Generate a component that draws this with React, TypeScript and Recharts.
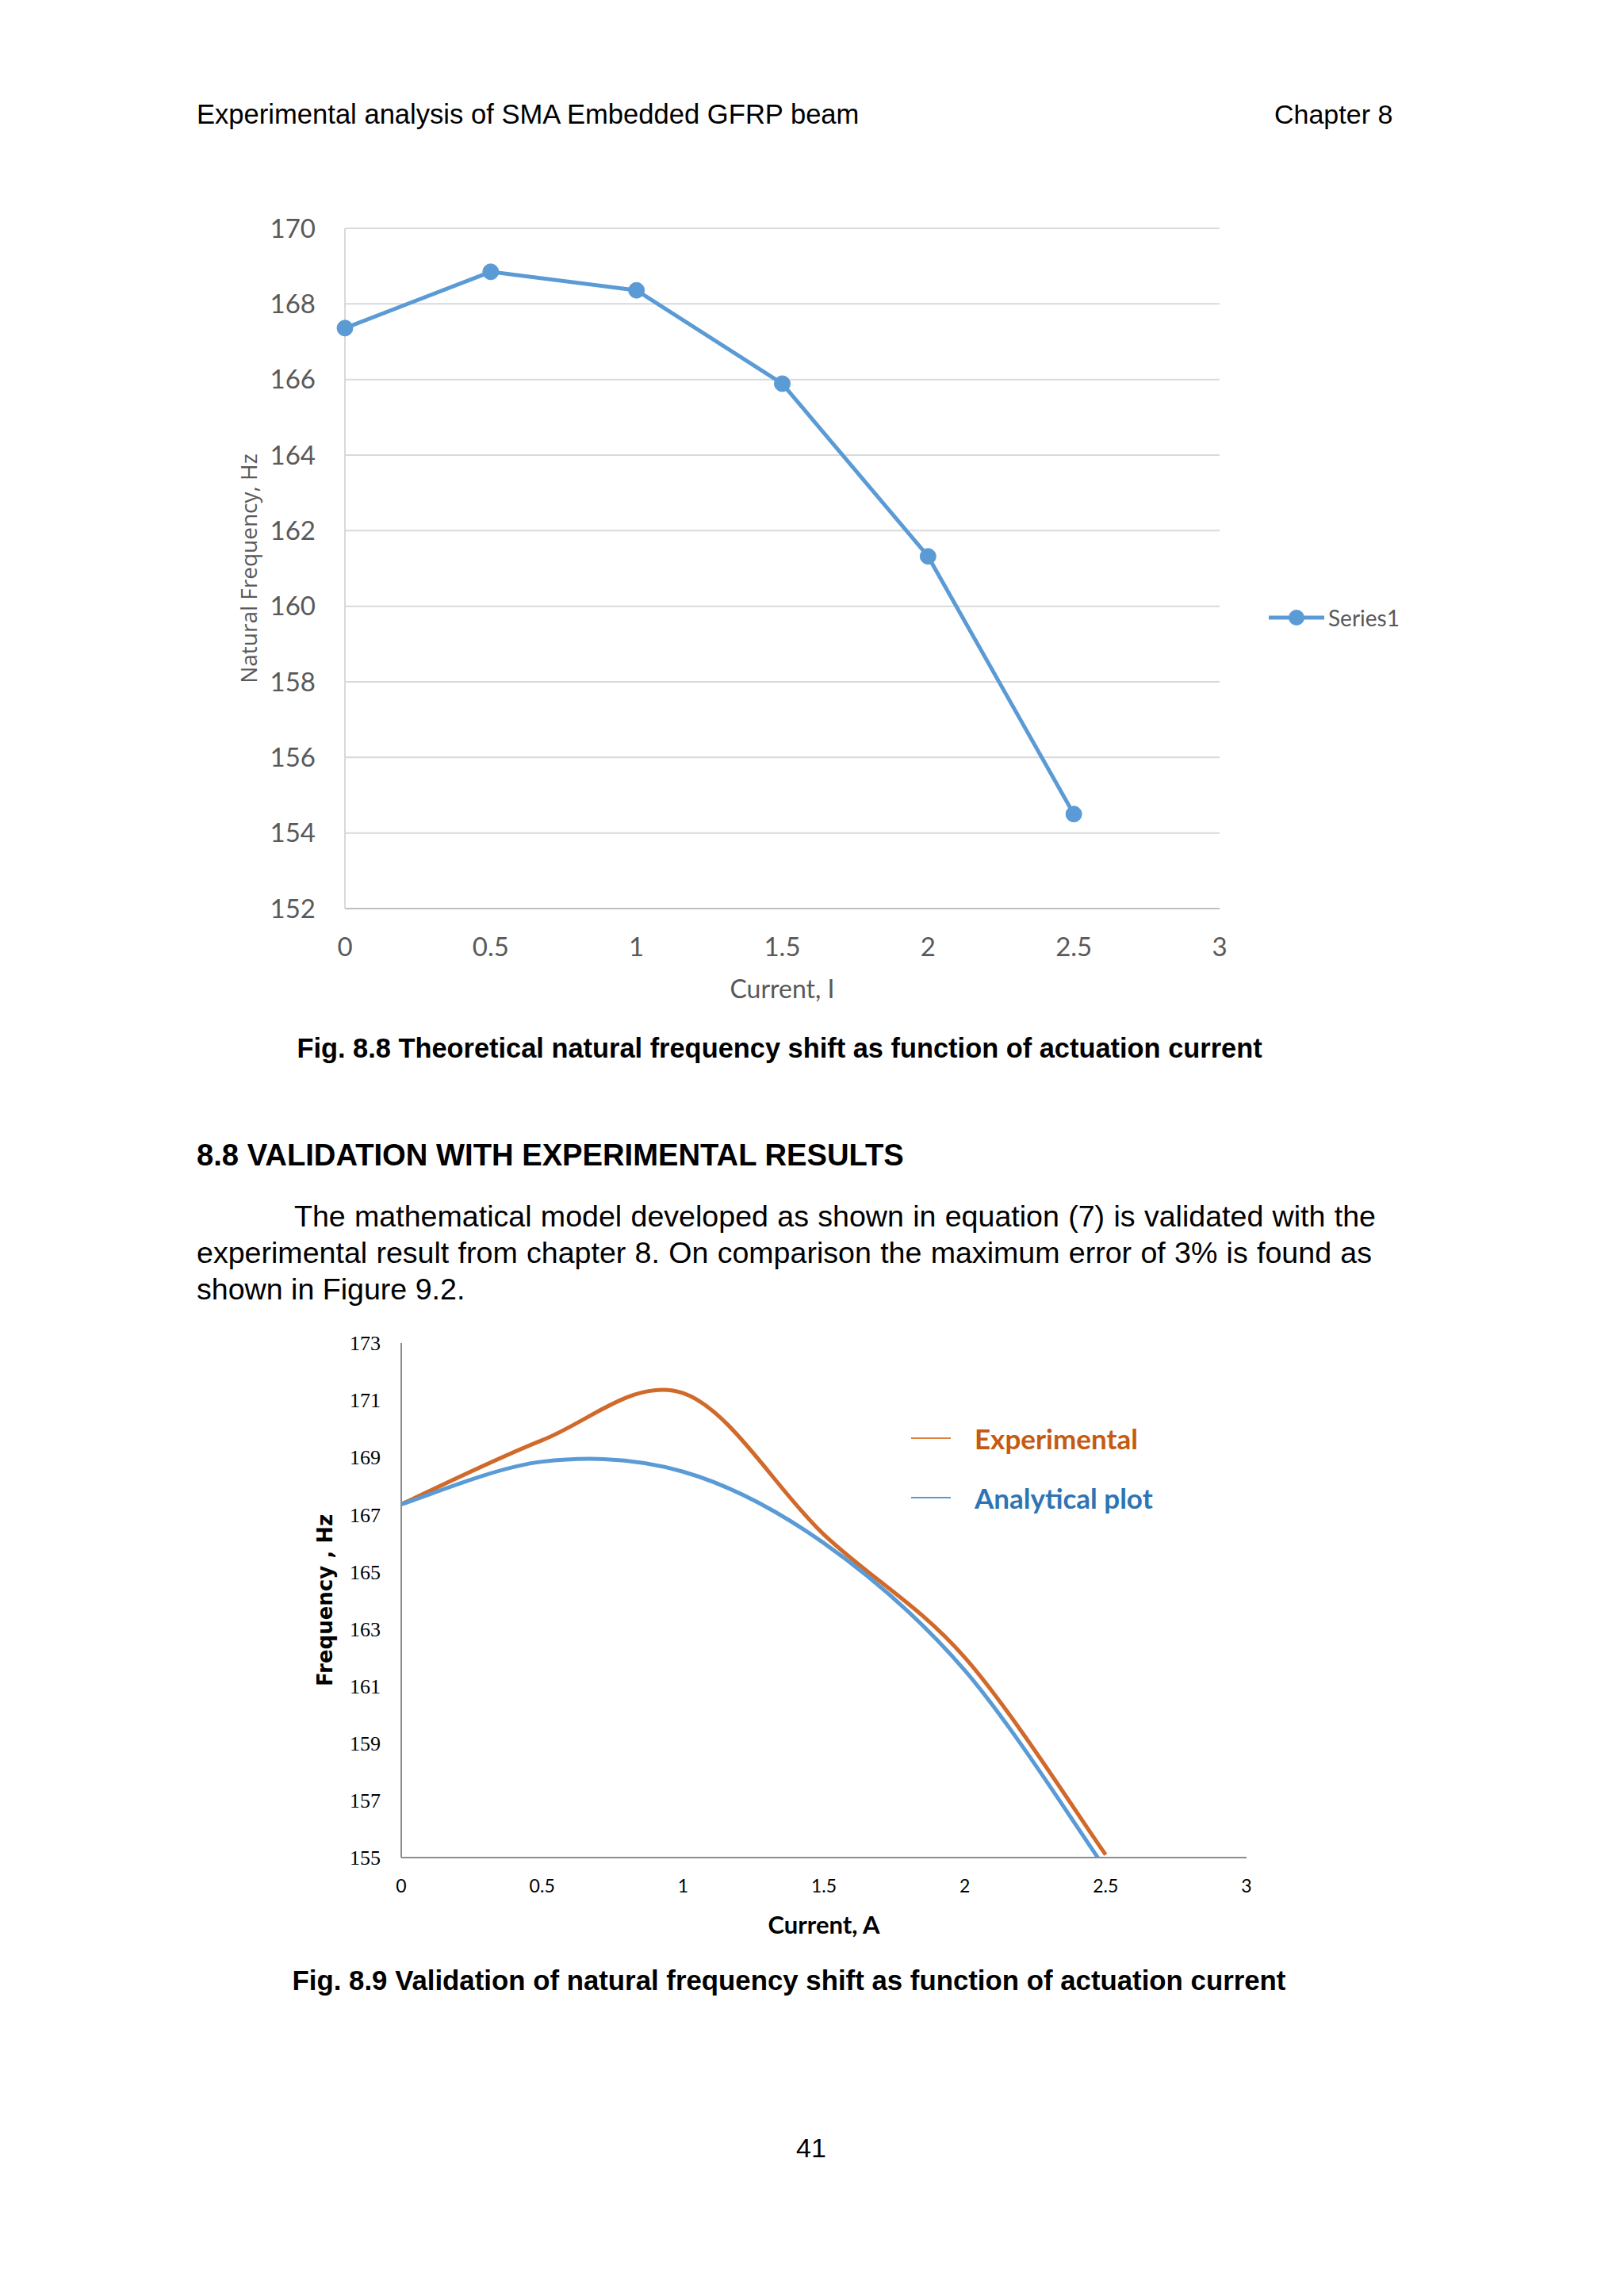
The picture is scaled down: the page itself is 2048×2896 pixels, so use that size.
import { LineChart, Line, XAxis, YAxis, CartesianGrid, Legend } from "recharts";

// Fig. 8.8 – theoretical natural frequency vs current
const currentSteps = [0, 0.5, 1, 1.5, 2, 2.5];
const theoreticalHz = [167.36, 168.85, 168.36, 165.89, 161.32, 154.5];
const fig88XTicks = [0, 0.5, 1, 1.5, 2, 2.5, 3];
const fig88YTicks = [152, 154, 156, 158, 160, 162, 164, 166, 168, 170];

// Fig. 8.9 – validation
const experimentalHz = [167.36, 169.6, 171.25, 166.3, 162.0, 155.1];
const analyticalHz = [167.36, 168.85, 168.5, 166.0, 161.55, 154.6];
const fig89XTicks = [0, 0.5, 1, 1.5, 2, 2.5, 3];
const fig89YTicks = [155, 157, 159, 161, 163, 165, 167, 169, 171, 173];

const fig88Data = currentSteps.map((c, i) => ({ current: c, hz: theoreticalHz[i] }));
const fig89Data = currentSteps.map((c, i) => ({
  current: c,
  exp: experimentalHz[i],
  ana: analyticalHz[i],
}));

// excel style smoothed line (catmull-rom through the points)
function excelSmooth(context: any) {
  let pts: number[][] = [];
  return {
    areaStart() {},
    areaEnd() {},
    lineStart() {
      pts = [];
    },
    point(x: number, y: number) {
      pts.push([+x, +y]);
    },
    lineEnd() {
      const n = pts.length;
      if (!n) return;
      context.moveTo(pts[0][0], pts[0][1]);
      for (let i = 0; i < n - 1; i++) {
        const p0 = pts[i - 1] || pts[i];
        const p1 = pts[i];
        const p2 = pts[i + 1];
        const p3 = pts[i + 2] || pts[i + 1];
        context.bezierCurveTo(
          p1[0] + (p2[0] - p0[0]) / 6,
          p1[1] + (p2[1] - p0[1]) / 6,
          p2[0] - (p3[0] - p1[0]) / 6,
          p2[1] - (p3[1] - p1[1]) / 6,
          p2[0],
          p2[1]
        );
      }
    },
  };
}

const BLUE = "#5B9BD5";
const ORANGE = "#D0692A";

function Series1Legend() {
  return (
    <div style={{ display: "flex", alignItems: "center", height: 40 }}>
      <svg width={72} height={24}>
        <line x1={0} y1={12} x2={70} y2={12} stroke={BLUE} strokeWidth={5} />
        <circle cx={35} cy={12} r={10} fill={BLUE} />
      </svg>
      <span style={{ fontFamily: "Lato", fontSize: 28, color: "#595959", marginLeft: 3 }}>
        Series1
      </span>
    </div>
  );
}

function ValidationLegend() {
  const rows = [
    { label: "Experimental", line: "#E0803E", text: "#C55A11" },
    { label: "Analytical plot", line: "#5B9BD5", text: "#2E74B5" },
  ];
  return (
    <div>
      {rows.map((r) => (
        <div key={r.label} style={{ display: "flex", alignItems: "center", height: 75 }}>
          <svg width={50} height={10}>
            <line x1={0} y1={5} x2={50} y2={5} stroke={r.line} strokeWidth={2} />
          </svg>
          <span
            style={{
              fontFamily: "Lato",
              fontWeight: 700,
              fontSize: 35,
              color: r.text,
              marginLeft: 30,
            }}
          >
            {r.label}
          </span>
        </div>
      ))}
    </div>
  );
}

const abs = (left: number, top: number): any => ({ position: "absolute", left, top });

export default function App() {
  return (
    <div
      style={{
        position: "relative",
        width: 2048,
        height: 2896,
        margin: -8,
        background: "#fff",
        fontFamily: "'Liberation Sans', Arial, sans-serif",
        color: "#000",
        overflow: "hidden",
      }}
    >
      <div style={{ ...abs(248, 124), fontSize: 34.6, lineHeight: "40px" }}>
        Experimental analysis of SMA Embedded GFRP beam
      </div>
      <div style={{ ...abs(1607, 124), fontSize: 34, lineHeight: "40px" }}>Chapter 8</div>

      {/* Fig 8.8 */}
      <div style={abs(140, 230)}>
        <LineChart
          width={1460}
          height={1040}
          data={fig88Data}
          margin={{ top: 58, right: 62, bottom: 4, left: 160 }}
        >
          <CartesianGrid vertical={false} stroke="#D9D9D9" strokeWidth={2} />
          <XAxis
            dataKey="current"
            type="number"
            domain={[0, 3]}
            ticks={fig88XTicks}
            height={120}
            tickSize={0}
            tickMargin={37}
            axisLine={{ stroke: "#BFBFBF", strokeWidth: 2 }}
            tick={{ fill: "#595959", fontSize: 33, fontFamily: "Lato" }}
            label={{
              value: "Current, I",
              position: "insideBottom",
              offset: 7,
              fill: "#595959",
              fontSize: 32,
              fontFamily: "Lato",
            }}
          />
          <YAxis
            type="number"
            domain={[152, 170]}
            ticks={fig88YTicks}
            width={135}
            tickSize={0}
            tickMargin={37}
            axisLine={{ stroke: "#D9D9D9", strokeWidth: 2 }}
            tick={{ fill: "#595959", fontSize: 33, fontFamily: "Lato" }}
            label={{
              value: "Natural Frequency, Hz",
              angle: -90,
              position: "insideLeft",
              offset: 14,
              fill: "#595959",
              fontSize: 28,
              fontFamily: "Open Sans",
              style: { textAnchor: "middle" },
            }}
          />
          <Legend
            layout="horizontal"
            align="center"
            verticalAlign="middle"
            wrapperStyle={{ left: 1460, top: 529, width: 220, height: 40 }}
            content={() => <Series1Legend />}
          />
          <Line
            dataKey="hz"
            name="Series1"
            type="linear"
            stroke={BLUE}
            strokeWidth={5}
            dot={{ r: 10, fill: BLUE, stroke: BLUE, strokeWidth: 1 }}
            isAnimationActive={false}
          />
        </LineChart>
      </div>

      <div
        style={{
          position: "absolute",
          left: 0,
          width: 1966,
          top: 1302,
          textAlign: "center",
          fontSize: 34.4,
          fontWeight: 700,
          lineHeight: "40px",
        }}
      >
        Fig. 8.8 Theoretical natural frequency shift as function of actuation current
      </div>

      <div style={{ ...abs(248, 1435), fontSize: 38.2, fontWeight: 700, lineHeight: "44px" }}>
        8.8 VALIDATION WITH EXPERIMENTAL RESULTS
      </div>

      <div
        style={{
          ...abs(371, 1511),
          width: 1364,
          fontSize: 37.6,
          lineHeight: "46px",
          whiteSpace: "nowrap",
          textAlign: "justify",
          textAlignLast: "justify",
        }}
      >
        The mathematical model developed as shown in equation (7) is validated with the
      </div>
      <div
        style={{
          ...abs(248, 1557),
          width: 1482,
          fontSize: 37.6,
          lineHeight: "46px",
          whiteSpace: "nowrap",
          textAlign: "justify",
          textAlignLast: "justify",
        }}
      >
        experimental result from chapter 8. On comparison the maximum error of 3% is found as
      </div>
      <div style={{ ...abs(248, 1603), fontSize: 37.6, lineHeight: "46px" }}>shown in Figure 9.2.</div>

      {/* Fig 8.9 */}
      <div style={abs(200, 1650)}>
        <LineChart
          width={1420}
          height={820}
          data={fig89Data}
          margin={{ top: 44, right: 48, bottom: 17, left: 160 }}
        >
          <XAxis
            dataKey="current"
            type="number"
            domain={[0, 3]}
            ticks={fig89XTicks}
            height={110}
            tickSize={0}
            tickMargin={28}
            axisLine={{ stroke: "#8C8C8C", strokeWidth: 2 }}
            tick={{ fill: "#000", fontSize: 23, fontFamily: "Lato" }}
            label={{
              value: "Current, A",
              position: "insideBottom",
              offset: 14,
              fill: "#000",
              fontSize: 31,
              fontWeight: 700,
              fontFamily: "Lato",
            }}
          />
          <YAxis
            type="number"
            domain={[155, 173]}
            ticks={fig89YTicks}
            allowDataOverflow
            width={146}
            tickSize={0}
            tickMargin={26}
            axisLine={{ stroke: "#8C8C8C", strokeWidth: 2 }}
            tick={{ fill: "#000", fontSize: 26, fontFamily: "Liberation Serif" }}
            label={{
              value: "Frequency , Hz",
              angle: -90,
              position: "insideLeft",
              offset: 50,
              fill: "#000",
              fontSize: 26,
              fontWeight: 700,
              fontFamily: "DejaVu Sans",
              style: { textAnchor: "middle" },
            }}
          />
          <Legend
            layout="horizontal"
            align="center"
            verticalAlign="middle"
            wrapperStyle={{ left: 949, top: 126, width: 420, height: 150 }}
            content={() => <ValidationLegend />}
          />
          <Line
            dataKey="exp"
            name="Experimental"
            type={excelSmooth as any}
            stroke={ORANGE}
            strokeWidth={5}
            dot={false}
            isAnimationActive={false}
          />
          <Line
            dataKey="ana"
            name="Analytical plot"
            type={excelSmooth as any}
            stroke={BLUE}
            strokeWidth={5}
            dot={false}
            isAnimationActive={false}
          />
        </LineChart>
      </div>

      <div
        style={{
          position: "absolute",
          left: 0,
          width: 1990,
          top: 2478,
          textAlign: "center",
          fontSize: 34.8,
          fontWeight: 700,
          lineHeight: "40px",
        }}
      >
        Fig. 8.9 Validation of natural frequency shift as function of actuation current
      </div>

      <div style={{ ...abs(1004, 2689), fontSize: 34, lineHeight: "40px" }}>41</div>
    </div>
  );
}
